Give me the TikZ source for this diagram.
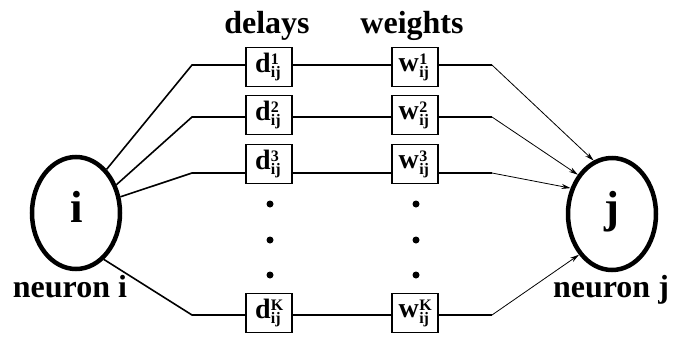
\documentclass[tikz,border=0pt]{standalone}
\usepackage{fontspec}
\setmainfont{Liberation Serif}
\usetikzlibrary{arrows.meta,shapes.geometric}
\newcommand{\supsub}[3]{#1\kern0.3pt{\fontsize{16}{16}\selectfont\makebox[12pt][l]{\rlap{\raisebox{7.5pt}{#2}}\raisebox{-5.5pt}{#3}}}}
\begin{document}
\begin{tikzpicture}[x=1pt,y=-1pt,
  neuron/.style={draw,ellipse,line width=4.5pt,minimum width=88pt,minimum height=112pt,inner sep=0pt},
  bigtext/.style={font=\fontsize{45}{48}\selectfont\bfseries,anchor=base,inner sep=0pt},
  box/.style={draw,line width=1.6pt,fill=white,minimum width=46pt,minimum height=39pt,inner sep=0pt,font=\fontsize{28}{30}\selectfont\bfseries},
  lbl/.style={font=\fontsize{32}{34}\selectfont\bfseries,anchor=base,inner sep=0pt},
  wire/.style={line width=1.6pt},
  arr/.style={line width=0.8pt,-{Stealth[length=9pt,width=5pt]}},
  dotn/.style={circle,fill,inner sep=0pt,minimum size=7pt}]
\useasboundingbox (0,0) rectangle (678,338);

% neurons
\node[neuron] (i) at (76,213) {};
\node[neuron] (j) at (612,214) {};
\node[bigtext] (ti) at (77,222) {i};
\node[bigtext] (tj) at (612,222) {j};

% labels
\node[lbl] (ld) at (267,33) {delays};
\node[lbl] (lw) at (412,33) {weights};
\node[lbl] (lni) at (70,297) {neuron i};
\node[lbl] (lnj) at (611,297) {neuron j};

% rows: index / line y / box y / superscript / start angle / end angle
\foreach \n/\ly/\by/\s/\sa/\ea in {1/65/67/1/55/109, 2/117/115/2/35/131, 3/173/164/3/20/148, 4/315/313/K/-59/231}{
  \coordinate (bl\n) at (192,\ly);
  \coordinate (br\n) at (492,\ly);
  \node[box] (d\n) at (269,\by) {\supsub{d}{\s}{ij}};
  \node[box] (w\n) at (415,\by) {\supsub{w}{\s}{ij}};
  \draw[wire] (i.\sa) -- (bl\n) -- (d\n.west |- bl\n);
  \draw[wire] (d\n.east |- bl\n) -- (w\n.west |- bl\n);
  \draw[wire] (w\n.east |- br\n) -- (br\n);
  \draw[arr] (br\n) -- (j.\ea);
}

% dots
\foreach \k/\y in {a/204,b/240,c/275}{
  \node[dotn] (dd\k) at (270,\y) {};
  \node[dotn] (wd\k) at (416,\y) {};
}
\end{tikzpicture}
\end{document}
